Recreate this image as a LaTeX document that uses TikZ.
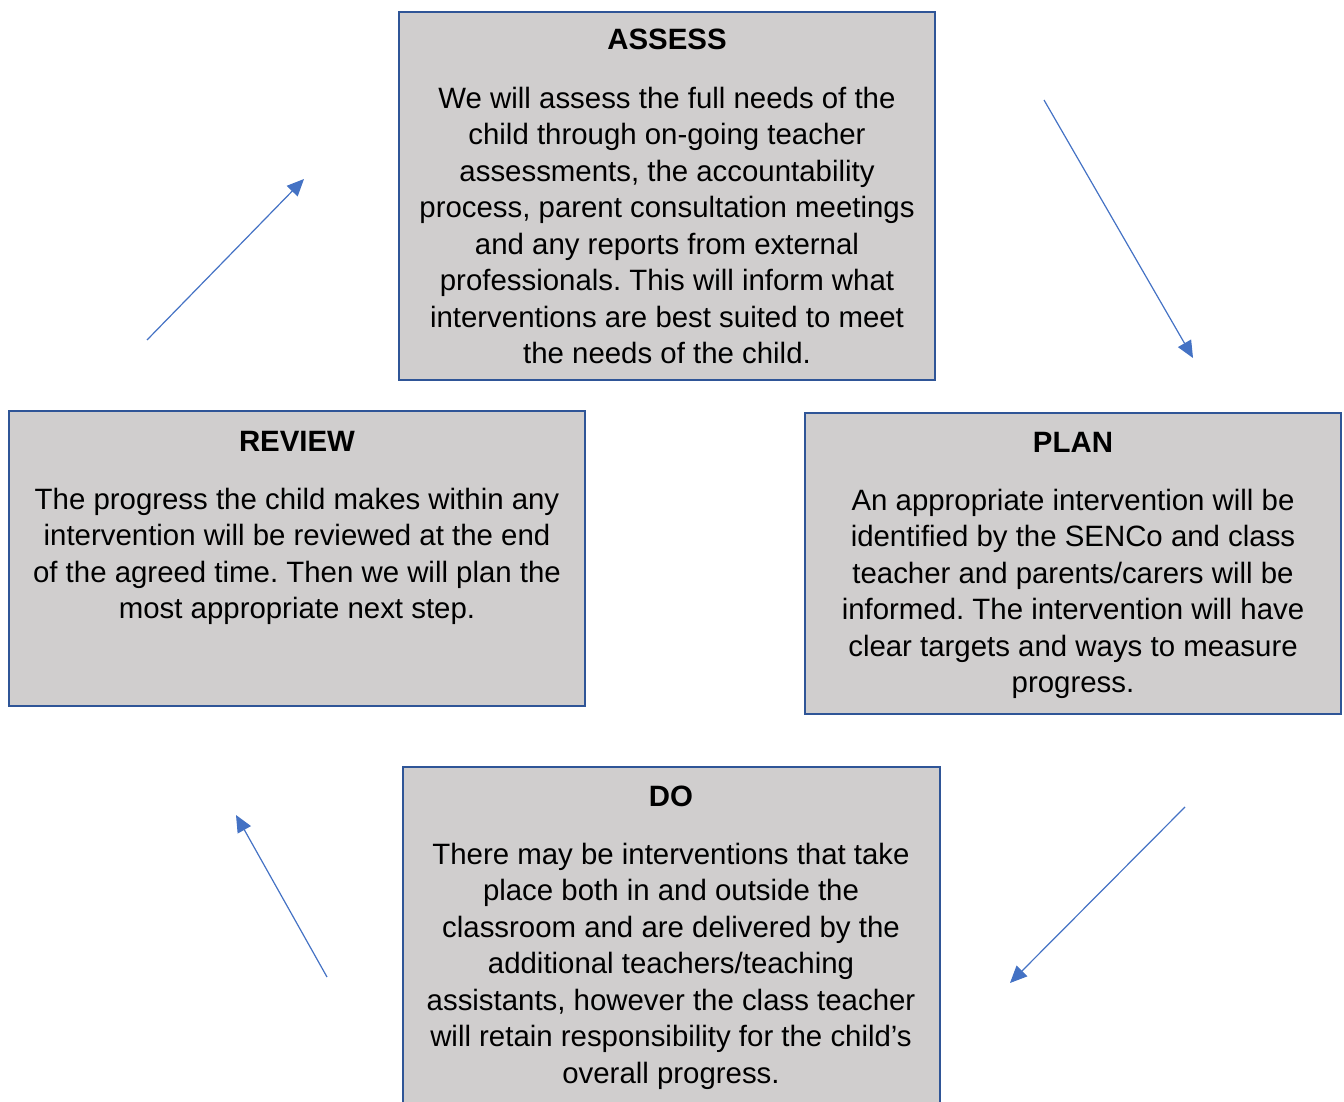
\documentclass[tikz,border=0pt]{standalone}
\usepackage{fontspec}
\setmainfont{Liberation Sans}
\usetikzlibrary{arrows.meta}

\definecolor{boxgray}{HTML}{D0CECE}
\definecolor{boxblue}{HTML}{2F5597}
\definecolor{arrowblue}{HTML}{4472C4}

\frenchspacing

\begin{document}
\begin{tikzpicture}[x=1pt, y=-1pt,
  stagebox/.style={draw=boxblue, line width=2.2pt, fill=boxgray, inner sep=0pt},
  stagetitle/.style={anchor=base, inner sep=0pt, font=\bfseries\fontsize{29.4}{36.5}\selectfont},
  stagetext/.style={anchor=base, inner sep=0pt, align=center, font=\fontsize{29.4}{36.5}\selectfont},
  cyclearrow/.style={-{Triangle[length=17pt,width=15pt]}, draw=arrowblue, line width=1.2pt}]

\useasboundingbox (0,0) rectangle (1344,1102);

% Assess (base = last line)
\node[stagebox, minimum width=536pt, minimum height=368pt] (assess) at (667,196) {};
\node[stagetitle] (assesstitle) at (667,50) {ASSESS};
\node[stagetext] (assesstext) at (667,363.5) {We will assess the full needs of the\\
  child through on-going teacher\\
  assessments, the accountability\\
  process, parent consultation meetings\\
  and any reports from external\\
  professionals. This will inform what\\
  interventions are best suited to meet\\
  the needs of the child.};

% Review
\node[stagebox, minimum width=576pt, minimum height=295pt] (review) at (297,558.5) {};
\node[stagetitle] (reviewtitle) at (297,451) {REVIEW};
\node[stagetext] (reviewtext) at (297,618.5) {The progress the child makes within any\\
  intervention will be reviewed at the end\\
  of the agreed time. Then we will plan the\\
  most appropriate next step.};

% Plan
\node[stagebox, minimum width=536pt, minimum height=301pt] (plan) at (1073,563.5) {};
\node[stagetitle] (plantitle) at (1073,452) {PLAN};
\node[stagetext] (plantext) at (1073,692.5) {An appropriate intervention will be\\
  identified by the SENCo and class\\
  teacher and parents/carers will be\\
  informed. The intervention will have\\
  clear targets and ways to measure\\
  progress.};

% Do (runs off the bottom edge)
\node[stagebox, minimum width=537pt, minimum height=353pt] (do) at (671.5,943.5) {};
\node[stagetitle] (dotitle) at (671,806) {DO};
\node[stagetext] (dotext) at (671,1083) {There may be interventions that take\\
  place both in and outside the\\
  classroom and are delivered by the\\
  additional teachers/teaching\\
  assistants, however the class teacher\\
  will retain responsibility for the child’s\\
  overall progress.};

% Arrows round the cycle
\coordinate (assessout) at (1044,100);
\coordinate (planin) at (1193,358);
\coordinate (planout) at (1185,807);
\coordinate (doin) at (1010,983);
\coordinate (doout) at (327,977);
\coordinate (reviewin) at (236,815);
\coordinate (reviewout) at (147,340);
\coordinate (assessin) at (304,179);

\draw[cyclearrow] (assessout) -- (planin);
\draw[cyclearrow] (planout) -- (doin);
\draw[cyclearrow] (doout) -- (reviewin);
\draw[cyclearrow] (reviewout) -- (assessin);

\end{tikzpicture}
\end{document}
